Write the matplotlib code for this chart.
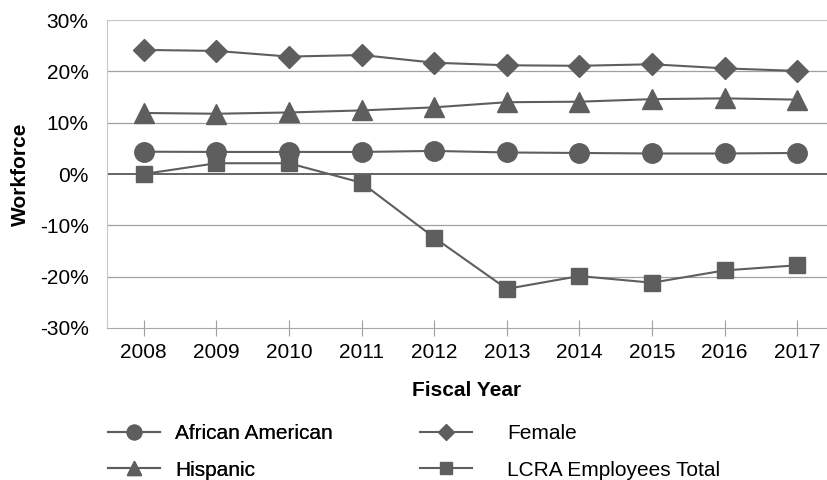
import matplotlib.pyplot as plt
from matplotlib.ticker import FuncFormatter

plt.rcParams['font.family'] = ['Liberation Sans', 'DejaVu Sans']

years = ['2008', '2009', '2010', '2011', '2012', '2013', '2014', '2015', '2016', '2017']
african_american = [4.35, 4.3, 4.3, 4.3, 4.5, 4.2, 4.1, 4.0, 4.0, 4.1]
female = [24.2, 24.0, 22.9, 23.2, 21.7, 21.2, 21.1, 21.4, 20.6, 20.1]
hispanic = [11.9, 11.75, 12.0, 12.4, 13.0, 14.0, 14.1, 14.6, 14.75, 14.5]
lcra_total = [0.0, 2.1, 2.1, -1.7, -12.4, -22.4, -19.9, -21.2, -18.8, -17.8]

GREY = '#5e5e5e'
FS = 15

fig = plt.figure(figsize=(8.27, 4.8), dpi=100)
ax = fig.add_axes([0.129, 0.317, 0.871, 0.641])

x = list(range(len(years)))
l_aa, = ax.plot(x, african_american, color=GREY, lw=1.5, marker='o', ms=14, label='African American', zorder=3)
l_f, = ax.plot(x, female, color=GREY, lw=1.5, marker='D', ms=11, label='Female', zorder=3)
l_h, = ax.plot(x, hispanic, color=GREY, lw=1.5, marker='^', ms=14, label='Hispanic', zorder=3)
l_t, = ax.plot(x, lcra_total, color=GREY, lw=1.5, marker='s', ms=12, label='LCRA Employees Total', zorder=3)

ax.set_xlim(-0.51, 9.41)
ax.set_ylim(-30, 30)
ax.set_yticks(range(-30, 31, 10))
ax.yaxis.set_major_formatter(FuncFormatter(lambda v, p: '%d%%' % v))
ax.set_xticks(x)
ax.set_xticklabels(years)

for v in range(-20, 31, 10):
    if v == 0:
        ax.axhline(0, color='#4a4a4a', lw=1.2, zorder=2)
    else:
        ax.axhline(v, color='#a0a0a0' if v != 30 else '#c8c8c8', lw=0.9, zorder=1)

for s in ['top', 'right']:
    ax.spines[s].set_visible(False)
ax.spines['left'].set_color('#c8c8c8')
ax.spines['bottom'].set_color('#a8a8a8')
ax.tick_params(axis='y', length=0, labelsize=FS, pad=13)
ax.tick_params(axis='x', direction='inout', length=11.5, color='#a0a0a0', labelsize=FS, pad=5)

ax.set_ylabel('Workforce', fontsize=FS, fontweight='bold', labelpad=7)
ax.set_xlabel('Fiscal Year', fontsize=FS, fontweight='bold', labelpad=14)

leg1 = fig.legend([l_aa, l_h], ['African American', 'Hispanic'], loc='upper left',
                  bbox_to_anchor=(0.1306, 0.117), bbox_transform=fig.transFigure,
                  frameon=False, fontsize=FS, markerscale=0.75, handlelength=2.5,
                  handletextpad=0.72, labelspacing=0.85, borderaxespad=0, borderpad=0)
leg2 = fig.legend([l_f, l_t], ['Female', 'LCRA Employees Total'], loc='upper left',
                  bbox_to_anchor=(0.508, 0.117), bbox_transform=fig.transFigure,
                  frameon=False, fontsize=FS, markerscale=0.75, handlelength=2.5,
                  handletextpad=1.68, labelspacing=0.85, borderaxespad=0, borderpad=0)
fig.add_artist(leg1)

fig.savefig('out.png', dpi=100)
